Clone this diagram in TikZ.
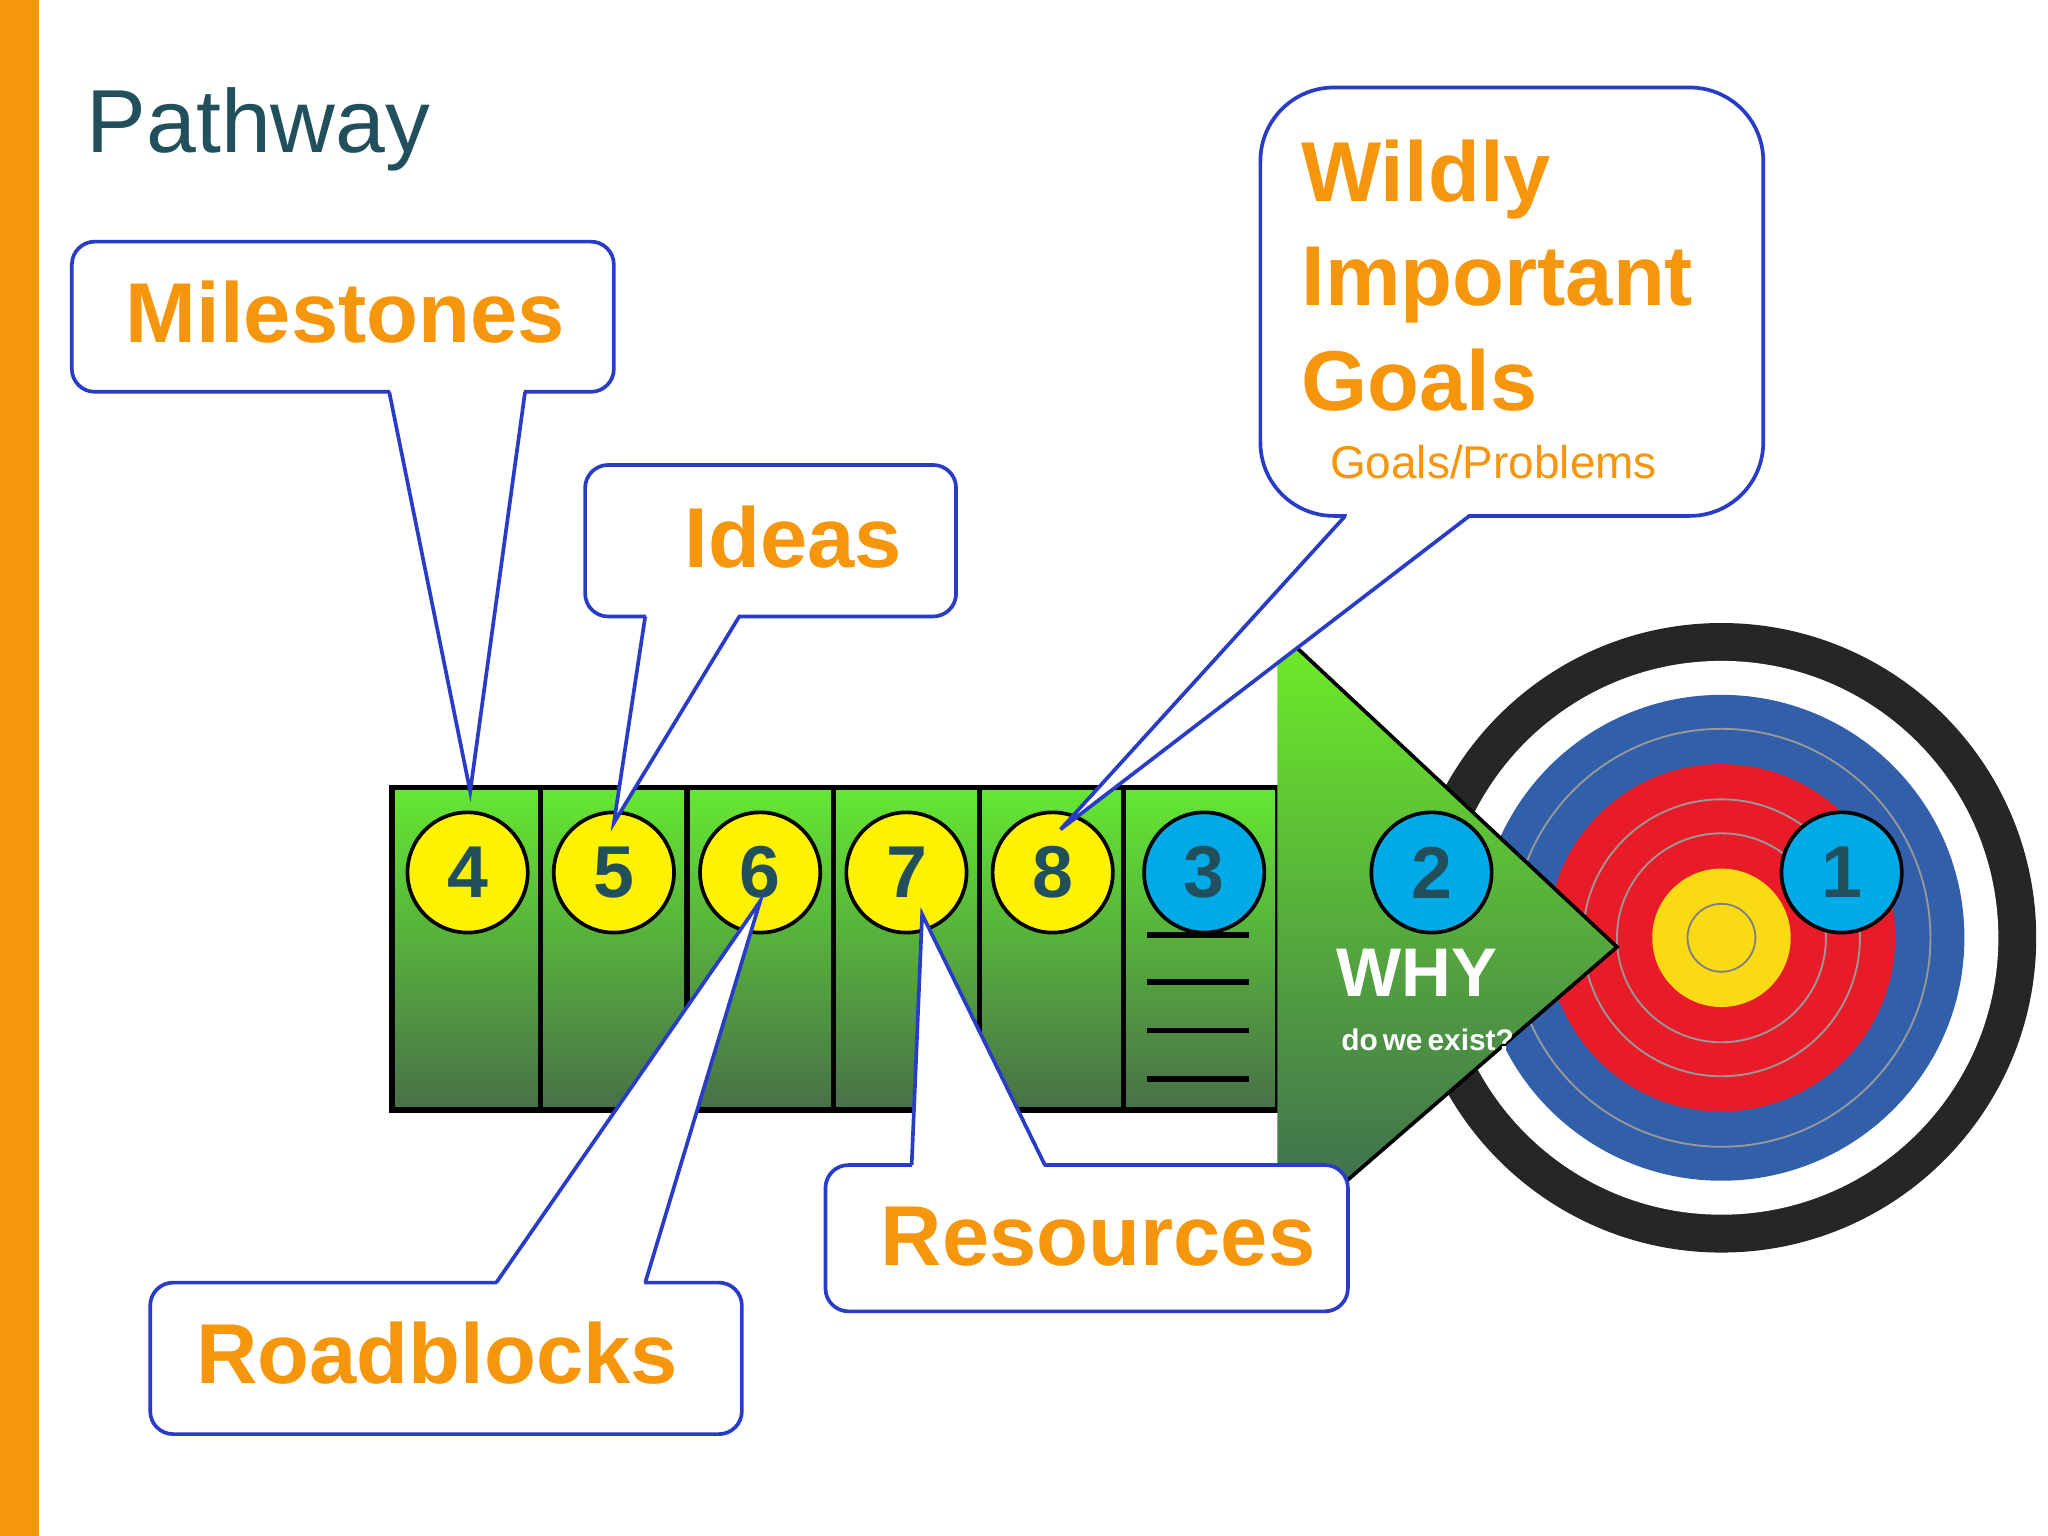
\documentclass[tikz,border=0pt]{standalone}
\usepackage{fontspec}
\setmainfont{Liberation Sans}
\definecolor{orng}{RGB}{246,150,12}
\definecolor{teal}{RGB}{33,80,92}
\definecolor{callblue}{RGB}{40,60,200}
\definecolor{tblue}{RGB}{50,95,170}
\definecolor{tred}{RGB}{232,28,40}
\definecolor{tyel}{RGB}{250,218,20}
\definecolor{cyanb}{RGB}{0,170,230}
\tikzset{
  callout/.style={draw=callblue, fill=white, line width=0.8pt, rounded corners=5pt},
  label/.style={text=orng, font=\fontsize{18.5}{22}\selectfont\bfseries, anchor=west},
  yball/.style={circle, draw=black, line width=0.8pt, fill=yellow, minimum size=0.92cm, inner sep=0pt, text=teal, font=\fontsize{16}{18}\selectfont\bfseries},
  bball/.style={yball, fill=cyanb},
}
\begin{document}
\begin{tikzpicture}[x=0.01cm, y=-0.01cm]
\useasboundingbox (0,0) rectangle (1568,1176);
\fill[white] (0,0) rectangle (1568,1176);
\fill[orng] (0,0) rectangle (30,1176);
\node[text=teal, font=\fontsize{19.5}{22}\selectfont, anchor=west] (title) at (54,99) {Pathway};

% target
\fill[black!85] (1318,718) circle (241);
\fill[white] (1318,718) circle (212);
\fill[tblue] (1318,718) circle (186);
\draw[black!40, line width=0.4pt] (1318,718) circle (160);
\fill[tred] (1318,718) circle (133);
\foreach \r in {80,106} \draw[black!40, line width=0.4pt] (1318,718) circle (\r);
\fill[tyel] (1318,718) circle (53);
\draw[black!50, line width=0.4pt] (1318,718) circle (26);

% pathway bar
\draw[line width=1.2pt, top color={rgb,255:red,100;green,232;blue,50}, bottom color={rgb,255:red,72;green,112;blue,72}] (300,603) rectangle (978,850);
\foreach \x in {414,526,638,750,860} \draw[line width=1.2pt] (\x,603) -- (\x,852);
\shade[top color={rgb,255:red,110;green,238;blue,40}, bottom color={rgb,255:red,60;green,100;blue,82}] (978,482) -- (1238,725) -- (978,950) -- cycle;
\draw[line width=0.8pt] (978,482) -- (1238,725) -- (978,950);
\foreach \y in {716,752,789,826} \draw[line width=1.2pt] (878,\y) -- (956,\y);

\node[yball] (n4) at (358,668) {4};
\node[yball] (n5) at (470,668) {5};
\node[yball] (n6) at (582,668) {6};
\node[yball] (n7) at (694,668) {7};
\node[yball] (n8) at (806,668) {8};
\node[bball] (n3) at (922,668) {3};
\node[bball] (n2) at (1096,668) {2};
\node[bball] (n1) at (1410,668) {1};
\node[text=white, font=\fontsize{15}{18}\selectfont\bfseries] (why) at (1085,745) {WHY};
\node[text=white, font=\fontsize{6.5}{8}\selectfont\bfseries, inner sep=0pt] (exist) at (1093,796) {do\,we\,exist?};

% callouts
\coordinate (t4) at (360,606);
\coordinate (t5) at (470,630);
\coordinate (t8) at (812,635);
\coordinate (t7) at (706,700);
\coordinate (t6) at (582,690);
\newcommand{\callout}[7]{% pointer from bottom edge
  \draw[callout] (#1,#2) rectangle (#3,#4);
  \fill[white] (#5+0.5,#4) -- (#7) -- (#6-0.5,#4) -- cycle;
  \fill[white] (#5+0.6,#4-2) rectangle (#6-0.6,#4+2);
  \draw[callblue, line width=0.8pt] (#5,#4) -- (#7) -- (#6,#4);
}
\newcommand{\calloutup}[7]{% pointer from top edge
  \draw[callout] (#1,#2) rectangle (#3,#4);
  \fill[white] (#5+0.5,#2) -- (#7) -- (#6-0.5,#2) -- cycle;
  \fill[white] (#5+0.6,#2-2) rectangle (#6-0.6,#2+2);
  \draw[callblue, line width=0.8pt] (#5,#2) -- (#7) -- (#6,#2);
}
\callout{55}{185}{470}{300}{298}{402}{t4}
\callout{448}{356}{732}{472}{494}{566}{t5}
\draw[callout, rounded corners=16pt] (965,67) rectangle (1350,395);
\fill[white] (1030.5,395) -- (t8) -- (1124.5,395) -- cycle;
\fill[white] (1031,393) rectangle (1124,397);
\draw[callblue, line width=0.8pt] (1030,395) -- (t8) -- (1125,395);
\calloutup{632}{892}{1032}{1004}{698}{800}{t7}
\calloutup{115}{982}{568}{1098}{380}{494}{t6}

\node[label] (ms) at (84,239) {Milestones};
\node[label] (id) at (512,411) {Ideas};
\node[label, align=left, font=\fontsize{18.5}{22.8}\selectfont\bfseries] (wig) at (984,211) {Wildly\\Important\\Goals};
\node[text=orng, font=\fontsize{10}{12}\selectfont, anchor=west] (gp) at (1006,354) {Goals/Problems};
\node[label] (res) at (662,947) {Resources};
\node[label] (rb) at (138,1036) {Roadblocks};
\end{tikzpicture}
\end{document}
